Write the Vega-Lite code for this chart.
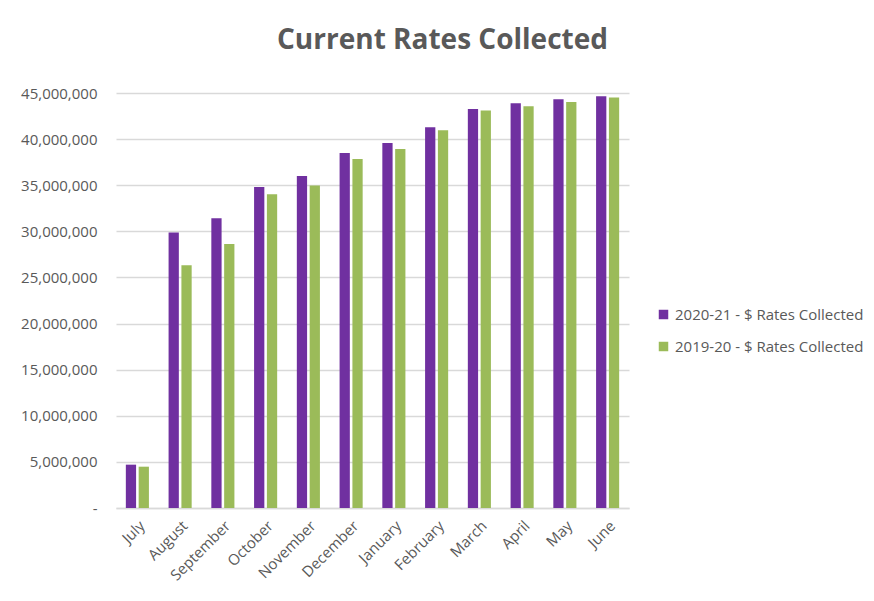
{
  "$schema": "https://vega.github.io/schema/vega-lite/v6.json",
  "width": 513,
  "height": 415,
  "autosize": {"type": "none"},
  "padding": {"left": 116, "top": 93, "right": 245, "bottom": 93},
  "background": "white",
  "title": {
    "text": "Current Rates Collected",
    "font": "Open Sans",
    "fontSize": 28,
    "fontWeight": "bold",
    "color": "#595959",
    "anchor": "middle",
    "dx": 70,
    "offset": 31
  },
  "data": {
    "values": [
      {"month": "July", "series": "2020-21 - $ Rates Collected", "amount": 4700000},
      {"month": "July", "series": "2019-20 - $ Rates Collected", "amount": 4480000},
      {"month": "August", "series": "2020-21 - $ Rates Collected", "amount": 29860000},
      {"month": "August", "series": "2019-20 - $ Rates Collected", "amount": 26310000},
      {"month": "September", "series": "2020-21 - $ Rates Collected", "amount": 31410000},
      {"month": "September", "series": "2019-20 - $ Rates Collected", "amount": 28630000},
      {"month": "October", "series": "2020-21 - $ Rates Collected", "amount": 34810000},
      {"month": "October", "series": "2019-20 - $ Rates Collected", "amount": 34010000},
      {"month": "November", "series": "2020-21 - $ Rates Collected", "amount": 36010000},
      {"month": "November", "series": "2019-20 - $ Rates Collected", "amount": 34960000},
      {"month": "December", "series": "2020-21 - $ Rates Collected", "amount": 38500000},
      {"month": "December", "series": "2019-20 - $ Rates Collected", "amount": 37850000},
      {"month": "January", "series": "2020-21 - $ Rates Collected", "amount": 39590000},
      {"month": "January", "series": "2019-20 - $ Rates Collected", "amount": 38940000},
      {"month": "February", "series": "2020-21 - $ Rates Collected", "amount": 41280000},
      {"month": "February", "series": "2019-20 - $ Rates Collected", "amount": 40950000},
      {"month": "March", "series": "2020-21 - $ Rates Collected", "amount": 43270000},
      {"month": "March", "series": "2019-20 - $ Rates Collected", "amount": 43090000},
      {"month": "April", "series": "2020-21 - $ Rates Collected", "amount": 43880000},
      {"month": "April", "series": "2019-20 - $ Rates Collected", "amount": 43560000},
      {"month": "May", "series": "2020-21 - $ Rates Collected", "amount": 44320000},
      {"month": "May", "series": "2019-20 - $ Rates Collected", "amount": 44030000},
      {"month": "June", "series": "2020-21 - $ Rates Collected", "amount": 44640000},
      {"month": "June", "series": "2019-20 - $ Rates Collected", "amount": 44500000}
    ]
  },
  "mark": {"type": "bar"},
  "encoding": {
    "x": {
      "field": "month",
      "type": "nominal",
      "sort": ["July", "August", "September", "October", "November", "December", "January", "February", "March", "April", "May", "June"],
      "scale": {"paddingInner": 0.46, "paddingOuter": 0.23},
      "axis": {
        "title": null,
        "labelAngle": -45,
        "labelFont": "Open Sans",
        "labelFontSize": 15,
        "labelColor": "#595959",
        "labelPadding": 10,
        "ticks": false,
        "domainColor": "#D9D9D9",
        "domainWidth": 1.5,
        "grid": false
      }
    },
    "xOffset": {
      "field": "series",
      "type": "nominal",
      "sort": ["2020-21 - $ Rates Collected", "2019-20 - $ Rates Collected"],
      "scale": {"paddingInner": 0.2}
    },
    "y": {
      "field": "amount",
      "type": "quantitative",
      "scale": {"domain": [0, 45000000], "nice": false},
      "axis": {
        "title": null,
        "values": [0, 5000000, 10000000, 15000000, 20000000, 25000000, 30000000, 35000000, 40000000, 45000000],
        "labelExpr": "datum.value == 0 ? '-' : format(datum.value, ',')",
        "labelFont": "Open Sans",
        "labelFontSize": 15,
        "labelColor": "#595959",
        "labelPadding": 19,
        "ticks": false,
        "domain": false,
        "gridColor": "#D9D9D9",
        "gridWidth": 1.5
      }
    },
    "color": {
      "field": "series",
      "type": "nominal",
      "scale": {
        "domain": ["2020-21 - $ Rates Collected", "2019-20 - $ Rates Collected"],
        "range": ["#7030A0", "#9BBB59"]
      },
      "legend": {
        "title": null,
        "orient": "none",
        "legendX": 540,
        "legendY": 214,
        "symbolType": "square",
        "symbolSize": 90,
        "symbolStrokeWidth": 0,
        "labelFont": "Open Sans",
        "labelFontSize": 15,
        "labelColor": "#595959",
        "labelOffset": 4,
        "labelLimit": 0,
        "rowPadding": 16
      }
    }
  },
  "config": {
    "view": {"stroke": null}
  }
}
